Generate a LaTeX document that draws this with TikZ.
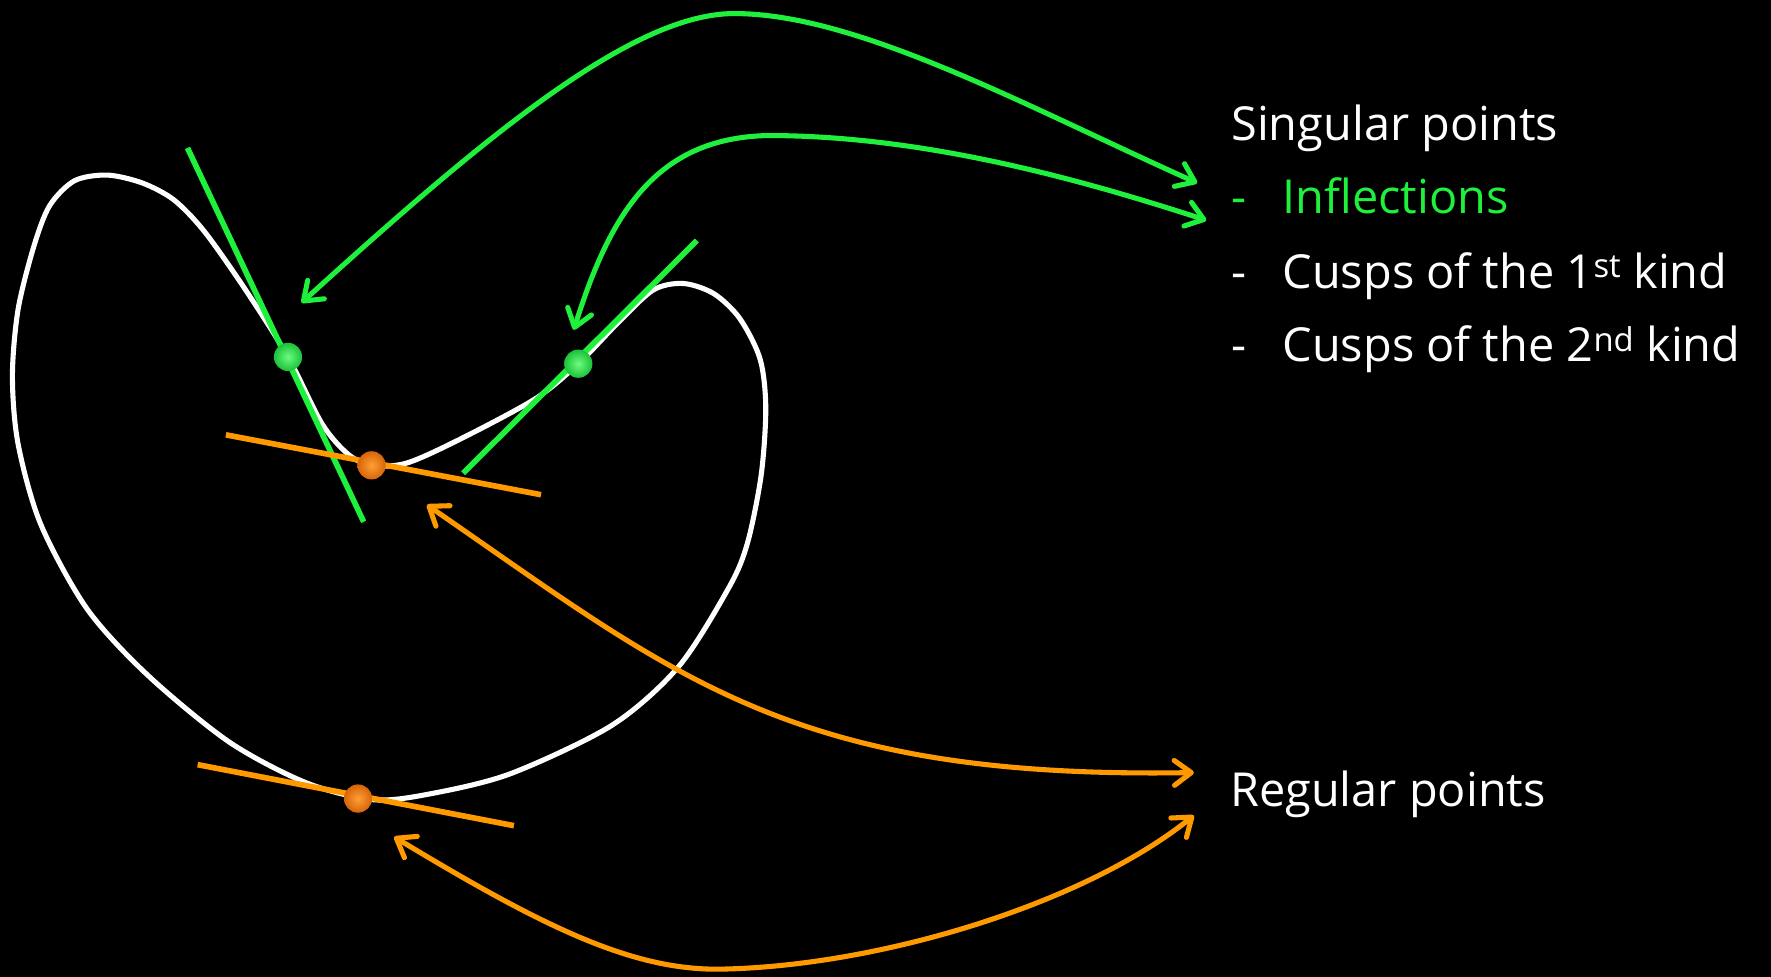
\documentclass[tikz,border=0pt]{standalone}
\usepackage{fontspec}
\setmainfont{Open Sans}
\usetikzlibrary{arrows.meta}
\definecolor{inflgreen}{RGB}{30,240,60}
\definecolor{regorange}{RGB}{255,153,0}
\tikzset{
  curve/.style={white, line width=4.5pt},
  tangent/.style={line width=5pt},
  pointer/.style={line width=4.5pt, {Straight Barb[length=15pt,width=22pt,round]}-{Straight Barb[length=15pt,width=22pt,round]}},
  pointdot/.style={circle, minimum size=25pt, inner sep=0pt, shading=radial},
  greendot/.style={pointdot, inner color={rgb,255:red,110;green,250;blue,130}, outer color={rgb,255:red,25;green,195;blue,55}},
  orangedot/.style={pointdot, inner color={rgb,255:red,255;green,160;blue,50}, outer color={rgb,255:red,215;green,100;blue,10}},
  txt/.style={text=white, anchor=base west, inner sep=0pt, font=\fontsize{41.5}{49}\selectfont}
}
\begin{document}
\begin{tikzpicture}[x=1pt, y=-1pt]
    \fill[black] (0,0) rectangle (1568,865);
    \useasboundingbox (0,0) rectangle (1568,865);
    % the closed curve
    \draw[curve] plot[smooth cycle] coordinates {
        (95,155) (126,162) (154,177) (181,205) (217,256) (255,316) (285,375)
        (308,402) (329,412) (360,410) (407,389) (474,353) (512,322) (545,288)
        (578,257) (605,251) (632,260) (655,282) (673,318) (678,361) (674,420)
        (662,480) (646,519) (601,590) (542,642) (452,685) (380,703) (330,708)
        (271,693) (203,657) (131,598) (77,539) (36,464) (16,393) (11,333)
        (16,274) (30,218) (44,182) (66,160)};
    % tangents
    \draw[tangent, inflgreen] (166,131) -- (322,462);
    \draw[tangent, inflgreen] (617,213) -- (410,419);
    \draw[tangent, regorange] (200,385) -- (479,438);
    \draw[tangent, regorange] (175,677) -- (455,731);
    % points
    \node[greendot] (inflA) at (255,316) {};
    \node[greendot] (inflB) at (512,322) {};
    \node[orangedot] (regA) at (329,412) {};
    \node[orangedot] (regB) at (317,707) {};
    % texts
    \node[txt] (singular) at (1090,124) {Singular points};
    \node[txt, text=inflgreen] (inflections) at (1090,189) {-\hspace{32pt}Inflections};
    \node[txt] (cuspA) at (1090,255) {-\hspace{32pt}Cusps of the 1\textsuperscript{st} kind};
    \node[txt] (cuspB) at (1090,320) {-\hspace{32pt}Cusps of the 2\textsuperscript{nd} kind};
    \node[txt] (regular) at (1089,714) {Regular points};
    % arrow ends
    \coordinate (gA) at (1060,162);
    \coordinate (gAend) at (267,268);
    \coordinate (gB) at (1068,195);
    \coordinate (gBend) at (508,292);
    \coordinate (oA) at (1057,684);
    \coordinate (oAend) at (378,447);
    \coordinate (oB) at (1057,722);
    \coordinate (oBend) at (349,741);
    % arrows
    \draw[pointer, inflgreen] (gAend) .. controls (430,120) and (560,12) .. (650,12)
        .. controls (760,12) and (910,95) .. (gA);
    \draw[pointer, inflgreen] (gBend) .. controls (540,190) and (580,122) .. (680,120)
        .. controls (820,120) and (960,160) .. (gB);
    \draw[pointer, regorange] (oAend) .. controls (600,600) and (700,690) .. (oA);
    \draw[pointer, regorange] (oBend) .. controls (480,820) and (560,860) .. (640,858)
        .. controls (780,855) and (960,800) .. (oB);
\end{tikzpicture}
\end{document}
